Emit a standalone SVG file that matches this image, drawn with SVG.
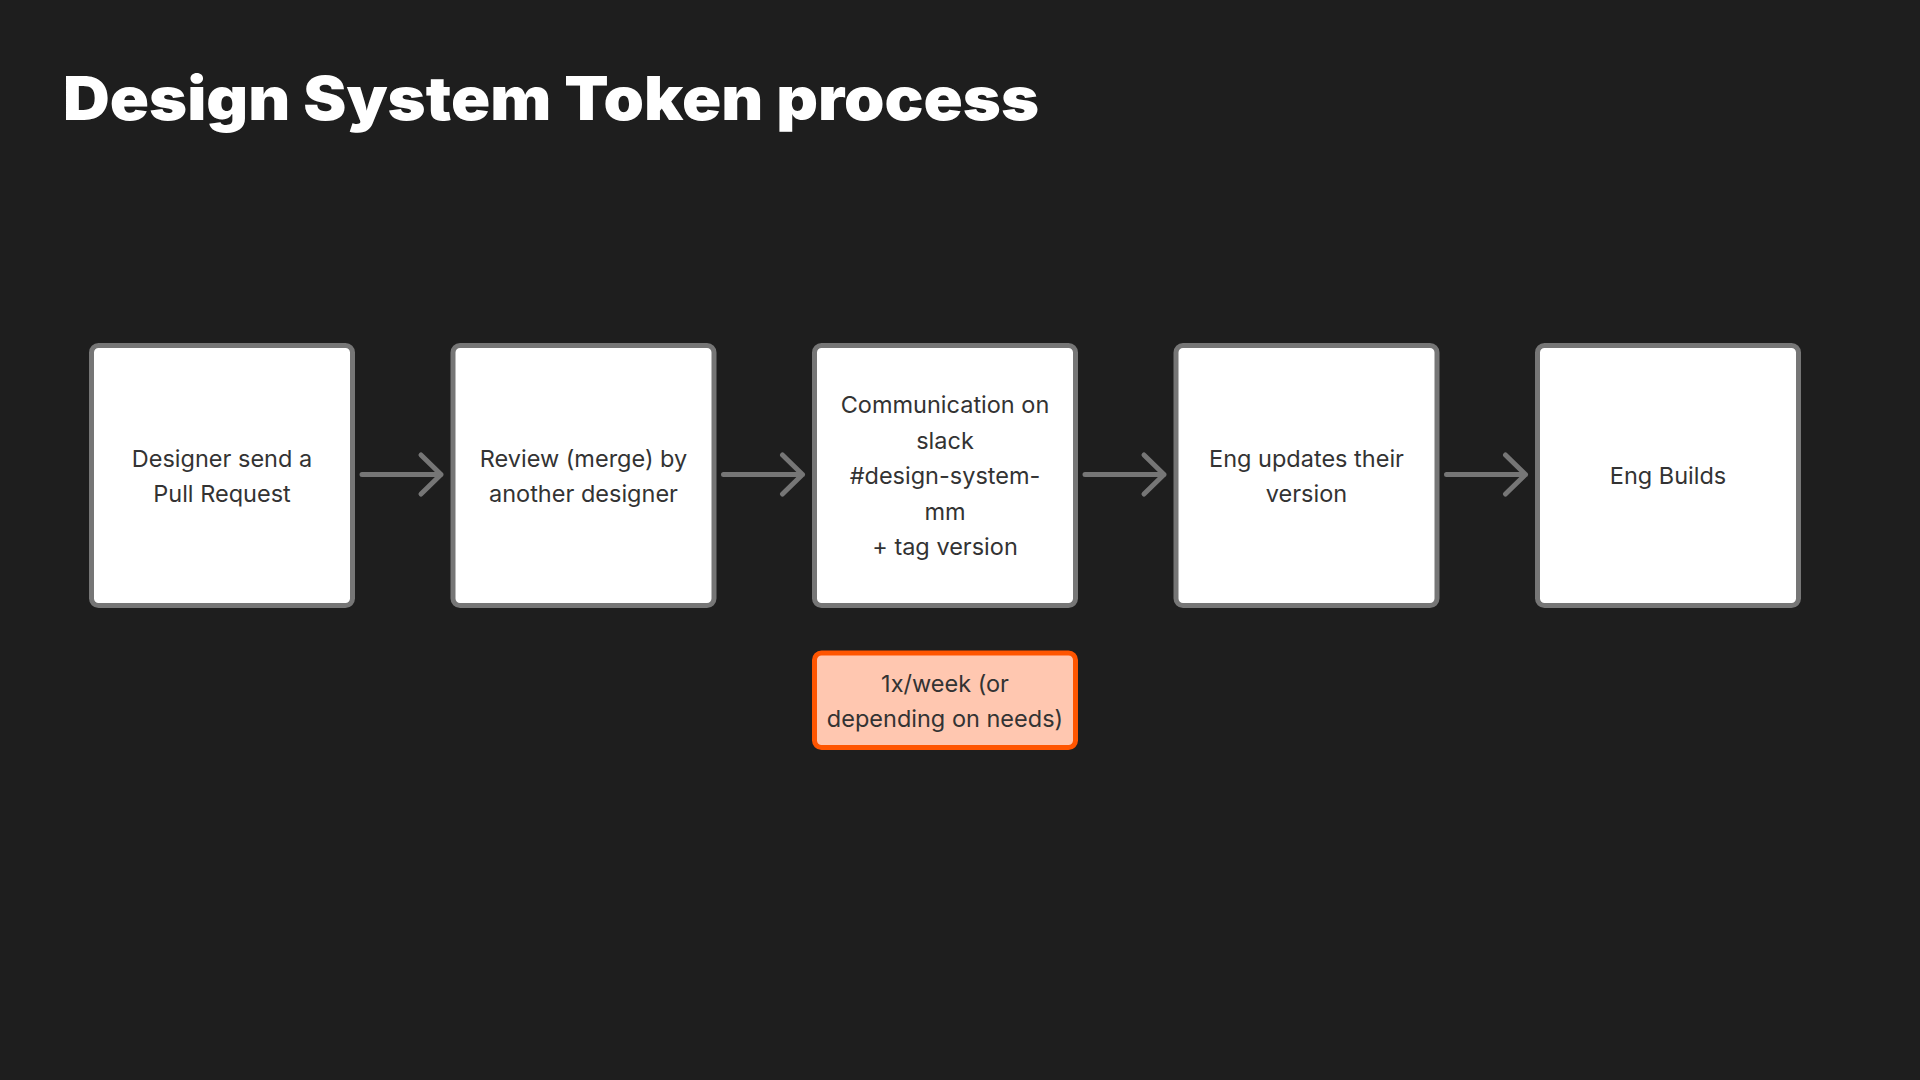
<svg xmlns="http://www.w3.org/2000/svg" width="1920" height="1080" viewBox="0 0 1920 1080">
<style>
.title{font-family:Inter,"Liberation Sans",sans-serif;font-weight:900;font-size:60px;fill:#ffffff}
.box{fill:#ffffff;stroke:#767676;stroke-width:5}
.note{fill:#ffc7b0;stroke:#ff5500;stroke-width:5}
.lbl{font-family:Inter,"Liberation Sans",sans-serif;font-size:23.5px;fill:#333333;text-anchor:middle}
.arrow{fill:none;stroke:#767676;stroke-width:5;stroke-linecap:round;stroke-linejoin:round}
</style>
<rect width="1920" height="1080" fill="#1e1e1e"/>
<text class="title" x="63" y="120" textLength="976" lengthAdjust="spacingAndGlyphs">Design System Token process</text>
<g id="connectors">
<path class="arrow" d="M362 474.5H441M421 455L441 474.5L421 494"/>
<path class="arrow" d="M723.5 474.5H802.5M782.5 455L802.5 474.5L782.5 494"/>
<path class="arrow" d="M1085 474.5H1164M1144 455L1164 474.5L1144 494"/>
<path class="arrow" d="M1446.5 474.5H1525.5M1505.5 455L1525.5 474.5L1505.5 494"/>
</g>
<g id="n1">
<rect class="box" x="91.5" y="345.5" width="261" height="260" rx="7"/>
<text class="lbl" x="222" y="466.5">Designer send a</text>
<text class="lbl" x="222" y="501.5">Pull Request</text>
</g>
<g id="n2">
<rect class="box" x="453" y="345.5" width="261" height="260" rx="7"/>
<text class="lbl" x="583.5" y="466.5">Review (merge) by</text>
<text class="lbl" x="583.5" y="501.5">another designer</text>
</g>
<g id="n3">
<rect class="box" x="814.5" y="345.5" width="261" height="260" rx="7"/>
<text class="lbl" x="945" y="413">Communication on</text>
<text class="lbl" x="945" y="448.5">slack</text>
<text class="lbl" x="945" y="484">#design-system-</text>
<text class="lbl" x="945" y="519.5">mm</text>
<text class="lbl" x="945" y="555">+ tag version</text>
</g>
<g id="n4">
<rect class="box" x="1176" y="345.5" width="261" height="260" rx="7"/>
<text class="lbl" x="1306.5" y="466.5">Eng updates their</text>
<text class="lbl" x="1306.5" y="501.5">version</text>
</g>
<g id="n5">
<rect class="box" x="1537.5" y="345.5" width="261" height="260" rx="7"/>
<text class="lbl" x="1668" y="484">Eng Builds</text>
</g>
<g id="note">
<rect class="note" x="814.5" y="653" width="261" height="94.5" rx="7"/>
<text class="lbl" x="945" y="691.5">1x/week (or</text>
<text class="lbl" x="945" y="727">depending on needs)</text>
</g>
</svg>
